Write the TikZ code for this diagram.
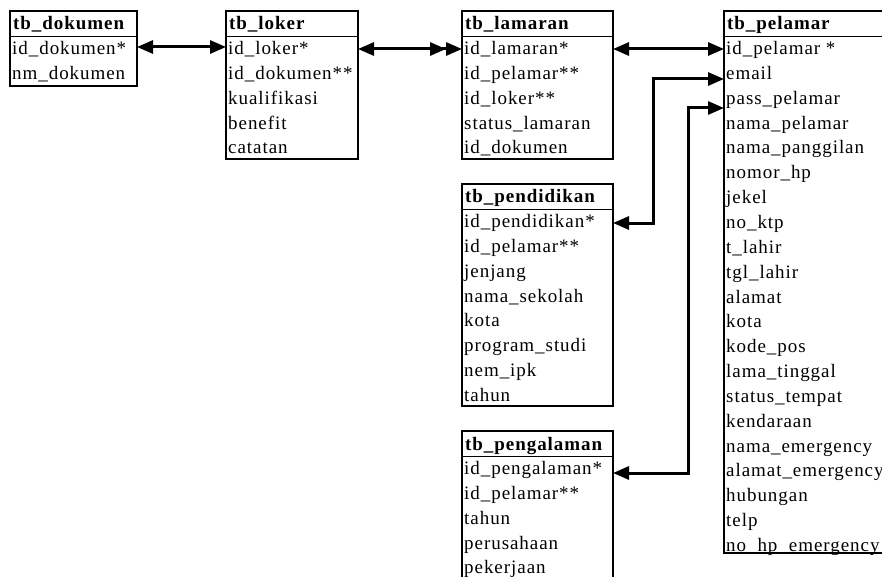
\documentclass[tikz,border=0pt]{standalone}
\usepackage{fontspec}
\setmainfont{Liberation Serif}[LetterSpace=5]
\usetikzlibrary{arrows.meta}

\tikzset{
  tbl/.style={draw, line width=1.3pt, anchor=north west, inner sep=0pt, outer sep=0pt},
  headline/.style={line width=0.9pt},
  hdr/.style={anchor=west, inner sep=0pt, text height=13pt, text depth=4pt,
    font=\fontsize{19}{21}\selectfont\bfseries},
  fld/.style={anchor=west, inner sep=0pt, text height=13pt, text depth=4pt,
    font=\fontsize{19}{21}\selectfont},
  tip/.tip={Triangle[length=16pt,width=13pt]},
  link/.style={line width=3pt, tip-tip},
  linkmany/.style={line width=3pt, {tip}-{tip[sep=0pt]tip}},
}

\begin{document}
\begin{tikzpicture}[x=1pt, y=-1pt]
\useasboundingbox (0,0) rectangle (882,577);
\clip (0,0) rectangle (882,577);

% ---- table boxes ----
\node[tbl, minimum width=127pt, minimum height=75pt]  (dokumen)    at (10,11)  {};
\node[tbl, minimum width=132pt, minimum height=148pt] (loker)      at (226,11) {};
\node[tbl, minimum width=151pt, minimum height=148pt] (lamaran)    at (462,11) {};
\node[tbl, minimum width=180pt, minimum height=542pt, line width=2pt] (pelamar) at (724,11) {};
\node[tbl, minimum width=151pt, minimum height=222pt] (pendidikan) at (462,184) {};
\node[tbl, minimum width=151pt, minimum height=170pt] (pengalaman) at (462,431) {};

% ---- header separators ----
\foreach \t in {dokumen,loker,lamaran,pelamar,pendidikan,pengalaman}
  \draw[headline] ([yshift=-25pt]\t.north west) -- ([yshift=-25pt]\t.north east);

% ---- headers ----
\node[hdr] (dokumen-h)    at (13,25.5)  {tb\_dokumen};
\node[hdr] (loker-h)      at (229,25.5) {tb\_loker};
\node[hdr] (lamaran-h)    at (465,25.5) {tb\_lamaran};
\node[hdr] (pelamar-h)    at (727,25.5) {tb\_pelamar};
\node[hdr] (pendidikan-h) at (465,198.5) {tb\_pendidikan};
\node[hdr] (pengalaman-h) at (465,445.5) {tb\_pengalaman};

% ---- fields ----
\foreach \f [count=\i] in {id\_dokumen*, nm\_dokumen}
  \node[fld] (dok\i) at (12,{50+(\i-1)*24.85}) {\f};
\foreach \f [count=\i] in {id\_loker*, id\_dokumen**, kualifikasi, benefit, catatan}
  \node[fld] (lok\i) at (228,{50+(\i-1)*24.85}) {\f};
\foreach \f [count=\i] in {id\_lamaran*, id\_pelamar**, id\_loker**, status\_lamaran, id\_dokumen}
  \node[fld] (lam\i) at (464,{50+(\i-1)*24.85}) {\f};
\foreach \f [count=\i] in {id\_pelamar *, email, pass\_pelamar, nama\_pelamar, nama\_panggilan,
    nomor\_hp, jekel, no\_ktp, t\_lahir, tgl\_lahir, alamat, kota, kode\_pos, lama\_tinggal,
    status\_tempat, kendaraan, nama\_emergency, alamat\_emergency, hubungan, telp, no\_hp\_emergency}
  \node[fld] (pel\i) at (726,{50+(\i-1)*24.85}) {\f};
\foreach \f [count=\i] in {id\_pendidikan*, id\_pelamar**, jenjang, nama\_sekolah, kota,
    program\_studi, nem\_ipk, tahun}
  \node[fld] (pen\i) at (464,{223+(\i-1)*24.85}) {\f};
\foreach \f [count=\i] in {id\_pengalaman*, id\_pelamar**, tahun, perusahaan, pekerjaan}
  \node[fld] (png\i) at (464,{470+(\i-1)*24.85}) {\f};

% ---- connector ports ----
\coordinate (pel-email) at (pelamar.west |- 0,79);
\coordinate (pel-pass)  at (pelamar.west |- 0,108);
\coordinate (pen-bend)  at (653,79);
\coordinate (png-bend)  at (688,108);

% ---- relations ----
\draw[link] (dokumen.east |- 0,47) -- (loker.west |- 0,47);
\draw[linkmany] (loker.east |- 0,49) -- (lamaran.west |- 0,49);
\draw[link] (lamaran.east |- 0,49) -- (pelamar.west |- 0,49);
\draw[link] (pel-email) -- (pen-bend) |- (pendidikan.east |- 0,223);
\draw[link] (pel-pass) -- (png-bend) |- (pengalaman.east |- 0,473);
\end{tikzpicture}
\end{document}
